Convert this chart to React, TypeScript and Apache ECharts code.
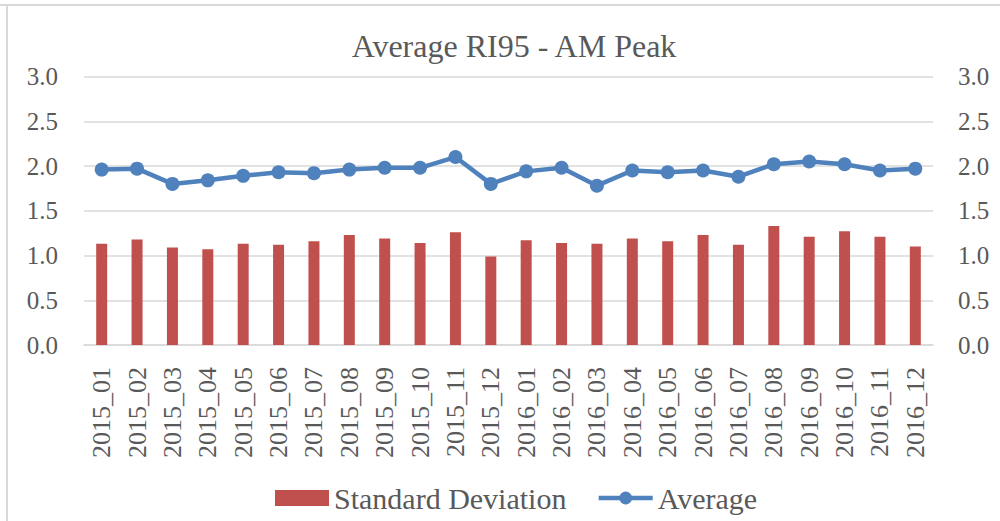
import React, { useEffect, useRef } from "react";
import * as echarts from "echarts";

const categories = [
  "2015_01", "2015_02", "2015_03", "2015_04", "2015_05", "2015_06",
  "2015_07", "2015_08", "2015_09", "2015_10", "2015_11", "2015_12",
  "2016_01", "2016_02", "2016_03", "2016_04", "2016_05", "2016_06",
  "2016_07", "2016_08", "2016_09", "2016_10", "2016_11", "2016_12",
];

const stdDev = [
  1.13, 1.18, 1.09, 1.07, 1.13, 1.12, 1.16, 1.23, 1.19, 1.14, 1.26, 0.99,
  1.17, 1.14, 1.13, 1.19, 1.16, 1.23, 1.12, 1.33, 1.21, 1.27, 1.21, 1.10,
];

const average = [
  1.96, 1.97, 1.80, 1.84, 1.89, 1.93, 1.92, 1.96, 1.98, 1.98, 2.10, 1.80,
  1.94, 1.98, 1.78, 1.95, 1.93, 1.95, 1.88, 2.02, 2.05, 2.02, 1.95, 1.97,
];

const yTicks = { min: 0, max: 3, interval: 0.5 };

const FONT = "'Liberation Serif', 'DejaVu Serif', serif";
const TEXT = "#595959";
const GRID = "#d9d9d9";
const BLUE = "#4f81bd";
const RED = "#c0504d";

export default function App() {
  const ref = useRef<HTMLDivElement>(null);

  useEffect(() => {
    if (!ref.current) return;
    const chart = echarts.init(ref.current, undefined, { renderer: "svg" });
    const yAxisBase = {
      type: "value" as const,
      min: yTicks.min,
      max: yTicks.max,
      interval: yTicks.interval,
      axisLine: { show: false },
      axisTick: { show: false },
      axisLabel: {
        color: TEXT,
        fontFamily: FONT,
        fontSize: 25,
        formatter: (v: number) => v.toFixed(1),
      },
    };
    chart.setOption({
      animation: false,
      backgroundColor: "#ffffff",
      title: {
        text: "Average RI95 - AM Peak",
        left: 509,
        top: 25,
        textAlign: "center",
        textStyle: { color: TEXT, fontFamily: FONT, fontSize: 32, fontWeight: "normal" },
      },
      grid: { left: 84, right: 67, top: 76.5, bottom: 176, containLabel: false },
      legend: {
        left: 270,
        top: 478,
        itemWidth: 54,
        itemHeight: 16,
        itemGap: 30,
        textStyle: { color: TEXT, fontFamily: FONT, fontSize: 30 },
        data: [
          { name: "Standard Deviation", icon: "rect" },
          {
            name: "Average",
            lineStyle: { color: BLUE, width: 4.5 },
            itemStyle: { color: BLUE },
          },
        ],
      },
      xAxis: {
        type: "category",
        data: categories,
        axisLine: { show: true, lineStyle: { color: GRID, width: 1.5 } },
        axisTick: { show: false },
        axisLabel: {
          rotate: 90,
          interval: 0,
          margin: 22,
          color: TEXT,
          fontFamily: FONT,
          fontSize: 26,
        },
      },
      yAxis: [
        {
          ...yAxisBase,
          position: "left",
          axisLabel: { ...yAxisBase.axisLabel, margin: 26 },
          splitLine: { show: true, lineStyle: { color: GRID, width: 1.5 } },
        },
        {
          ...yAxisBase,
          position: "right",
          axisLabel: { ...yAxisBase.axisLabel, margin: 25 },
          splitLine: { show: false },
        },
      ],
      series: [
        {
          name: "Standard Deviation",
          type: "bar",
          yAxisIndex: 0,
          data: stdDev,
          barWidth: 11,
          itemStyle: { color: RED },
        },
        {
          name: "Average",
          type: "line",
          yAxisIndex: 1,
          data: average,
          symbol: "circle",
          symbolSize: 14,
          lineStyle: { color: BLUE, width: 4.5 },
          itemStyle: { color: BLUE },
        },
      ],
      graphic: [
        { type: "line", shape: { x1: 0, y1: 5, x2: 1000, y2: 5 }, style: { stroke: GRID, lineWidth: 2 } },
        { type: "line", shape: { x1: 7, y1: 5, x2: 7, y2: 521 }, style: { stroke: GRID, lineWidth: 2 } },
      ],
    });
    return () => chart.dispose();
  }, []);

  return (
    <div
      ref={ref}
      style={{ position: "fixed", left: 0, top: 0, width: 1000, height: 521 }}
    />
  );
}
